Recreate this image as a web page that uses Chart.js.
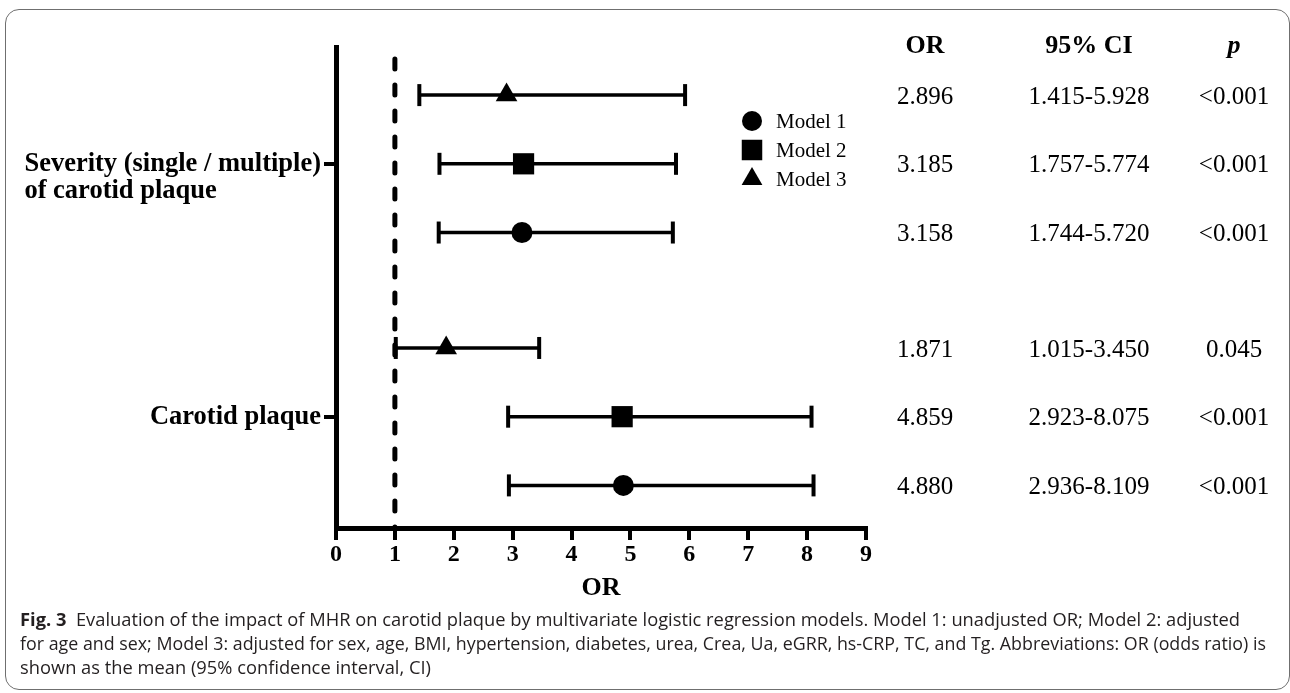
<!DOCTYPE html>
<html>
<head>
<meta charset="utf-8">
<script src="https://cdn.jsdelivr.net/npm/chart.js@4.4.1/dist/chart.umd.min.js"></script>
<style>
  body { margin: 0; background: #fff; }
  #wrap { position: relative; width: 1290px; height: 693px; overflow: hidden; }
  #chart { position: absolute; left: 0; top: 0; }
  #frame { position: absolute; left: 5px; top: 9px; width: 1285px; height: 681px;
           border: 1.5px solid #6f6f6f; border-radius: 14px; box-sizing: border-box; }
  .cap { position: absolute; left: 20px; font-family: "Open Sans", sans-serif;
         font-size: 18px; line-height: 24px; color: #231f20; white-space: nowrap;
         transform-origin: left top; }
  .cap b { font-weight: 700; }
</style>
</head>
<body>
<div id="wrap">
  <div id="frame"></div>
  <canvas id="chart" width="1290" height="693"></canvas>
  <div class="cap" style="top:607px" data-w="1220"><b>Fig. 3</b>&nbsp;&nbsp;Evaluation of the impact of MHR on carotid plaque by multivariate logistic regression models. Model 1: unadjusted OR; Model 2: adjusted</div>
  <div class="cap" style="top:631px" data-w="1246">for age and sex; Model 3: adjusted for sex, age, BMI, hypertension, diabetes, urea, Crea, Ua, eGRR, hs-CRP, TC, and Tg. Abbreviations: OR (odds ratio) is</div>
  <div class="cap" style="top:655px" data-w="411">shown as the mean (95% confidence interval, CI)</div>
</div>
<script>
// outcomes (rows of the forest plot), models, values per outcome x model
const groups = [['Severity (single / multiple)', 'of carotid plaque'], ['Carotid plaque']];
const models = ['Model 1', 'Model 2', 'Model 3'];
const modelStyles = ['circle', 'rect', 'triangle'];
const orValues = [[3.158, 3.185, 2.896], [4.880, 4.859, 1.871]];
const ciLow = [[1.744, 1.757, 1.415], [2.936, 2.923, 1.015]];
const ciHigh = [[5.720, 5.774, 5.928], [8.109, 8.075, 3.450]];
const pValues = [['<0.001', '<0.001', '<0.001'], ['<0.001', '<0.001', '0.045']];
const xTicks = [0, 1, 2, 3, 4, 5, 6, 7, 8, 9];
const refLine = 1;

// row placement on the category axis: model 3 on top, model 1 at the bottom
const rowStart = 0.7, groupGap = 3.68;
const rowY = (g, m) => rowStart + g * groupGap + (models.length - 1 - m);
const groupY = g => rowStart + g * groupGap + 1;

const serif = 'Liberation Serif, Times New Roman, serif';
const markerRadius = { circle: 10.5, rect: 15, triangle: 12.5 };

const datasets = [];
groups.forEach((g, gi) => {
    models.forEach((m, mi) => {
        datasets.push({
            type: 'scatter',
            data: [{ x: ciLow[gi][mi], y: rowY(gi, mi) }, { x: ciHigh[gi][mi], y: rowY(gi, mi) }],
            showLine: true,
            borderColor: '#000',
            borderWidth: 3.5,
            pointStyle: 'line',
            rotation: 90,
            pointRadius: 11,
            pointBorderWidth: 4,
            pointBorderColor: '#000',
            order: 2
        });
    });
});
models.forEach((m, mi) => {
    datasets.push({
        type: 'scatter',
        label: m,
        data: groups.map((g, gi) => ({ x: orValues[gi][mi], y: rowY(gi, mi) })),
        pointStyle: modelStyles[mi],
        pointRadius: markerRadius[modelStyles[mi]],
        backgroundColor: '#000',
        borderWidth: 0,
        order: 1
    });
});

const forestExtras = {
    id: 'forestExtras',
    beforeDatasetsDraw(chart) {
        const { ctx, chartArea, scales: { x } } = chart;
        const px = x.getPixelForValue(refLine);
        ctx.save();
        ctx.strokeStyle = '#000';
        ctx.lineWidth = 5;
        ctx.lineCap = 'round';
        ctx.setLineDash([10, 16]);
        ctx.beginPath();
        ctx.moveTo(px, chartArea.top + 12);
        ctx.lineTo(px, chartArea.bottom);
        ctx.stroke();
        ctx.restore();
    },
    afterDraw(chart) {
        const { ctx, chartArea, scales: { y } } = chart;
        ctx.save();
        ctx.fillStyle = '#000';

        // outcome labels on the y axis
        ctx.font = 'bold 26.5px ' + serif;
        ctx.textBaseline = 'middle';
        ctx.textAlign = 'left';
        const right = chartArea.left - 15;
        groups.forEach((lines, gi) => {
            const w = Math.max(...lines.map(l => ctx.measureText(l).width));
            const cy = y.getPixelForValue(groupY(gi));
            lines.forEach((l, li) => ctx.fillText(l, right - w, cy + li * 27));
        });

        // table on the right
        const cols = [chartArea.right + 59, chartArea.right + 223, chartArea.right + 368];
        ctx.textAlign = 'center';
        ctx.font = 'bold 26px ' + serif;
        ctx.fillText('OR', cols[0], 46);
        ctx.fillText('95% CI', cols[1], 46);
        ctx.font = 'italic bold 26px ' + serif;
        ctx.fillText('p', cols[2], 46);
        ctx.font = '25px ' + serif;
        groups.forEach((g, gi) => {
            models.forEach((m, mi) => {
                const py = y.getPixelForValue(rowY(gi, mi)) + 2;
                ctx.fillText(orValues[gi][mi].toFixed(3), cols[0], py);
                ctx.fillText(ciLow[gi][mi].toFixed(3) + '-' + ciHigh[gi][mi].toFixed(3), cols[1], py);
                ctx.fillText(pValues[gi][mi], cols[2], py);
            });
        });

        // legend
        ctx.textAlign = 'left';
        ctx.font = '21px ' + serif;
        models.forEach((m, mi) => {
            const ly = 121 + mi * 29;
            const lx = chartArea.right - 114;
            Chart.helpers.drawPoint(ctx, {
                pointStyle: modelStyles[mi],
                radius: markerRadius[modelStyles[mi]] - 0.5,
                rotation: 0,
                borderWidth: 0
            }, lx, ly);
            ctx.fillText(m, lx + 24, ly + 1);
        });
        ctx.restore();
    }
};

new Chart(document.getElementById('chart'), {
    type: 'scatter',
    data: { datasets: datasets },
    options: {
        responsive: false,
        animation: false,
        events: [],
        layout: { padding: { left: 0, right: 424, top: 47, bottom: 85 } },
        plugins: { legend: { display: false }, tooltip: { enabled: false } },
        scales: {
            x: {
                type: 'linear',
                min: xTicks[0],
                max: xTicks[xTicks.length - 1],
                afterBuildTicks: s => { s.ticks = xTicks.map(v => ({ value: v })); },
                afterFit: s => { s.height = 80; },
                border: { display: true, width: 5, color: '#000' },
                grid: { drawOnChartArea: false, drawTicks: true, tickLength: 12, lineWidth: 4, color: '#000' },
                ticks: { color: '#000', padding: 0, font: { family: serif, size: 24, weight: 'bold' } },
                title: { display: true, text: 'OR', color: '#000', padding: { top: 0, bottom: 4 },
                         font: { family: serif, size: 26, weight: 'bold' } }
            },
            y: {
                type: 'linear',
                reverse: true,
                min: 0,
                max: 7,
                afterBuildTicks: s => { s.ticks = groups.map((g, gi) => ({ value: groupY(gi) })); },
                afterFit: s => { s.width = 336; },
                border: { display: true, width: 5, color: '#000' },
                grid: { drawOnChartArea: false, drawTicks: true, tickLength: 12, lineWidth: 4, color: '#000' },
                ticks: { display: false }
            }
        }
    },
    plugins: [forestExtras]
});

// stretch each caption line to the width it has in the original figure
document.querySelectorAll('.cap').forEach(el => {
    const w = el.getBoundingClientRect().width;
    el.style.transform = 'scaleX(' + (Number(el.dataset.w) / w) + ')';
});
</script>
</body>
</html>
